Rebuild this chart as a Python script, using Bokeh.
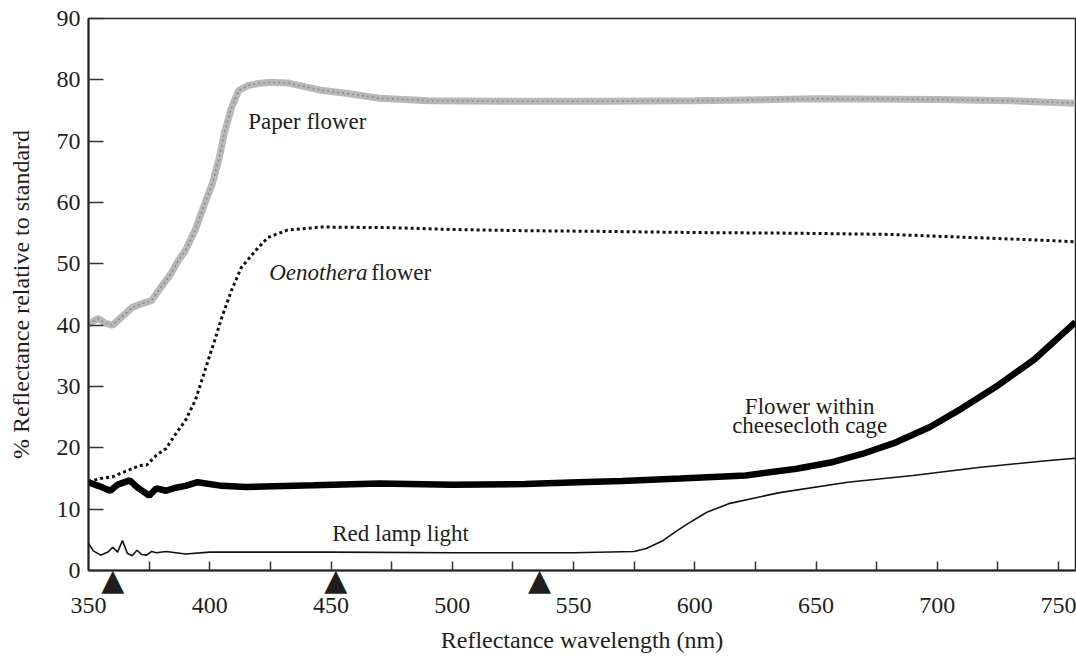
from bokeh.plotting import figure
from bokeh.models import Range1d, Label, FixedTicker, LinearAxis, CustomJSTickFormatter
from bokeh.embed import file_html
from bokeh.resources import INLINE

# ---------------- data ----------------
paper_wl = [350, 354, 357, 360, 365, 368, 372, 376, 379, 384, 387, 390, 394, 398, 401,
            404, 406, 409, 412, 416, 420, 425, 432, 440, 446, 456, 470, 490, 520, 560,
            600, 650, 700, 730, 757]
paper_val = [40.2, 41.1, 40.3, 40.0, 41.8, 42.9, 43.5, 44.0, 45.7, 48.4, 50.5, 52.2, 55.5,
             59.9, 63.0, 67.4, 71.3, 75.5, 78.3, 79.1, 79.4, 79.6, 79.5, 78.8, 78.3, 77.8,
             77.0, 76.6, 76.5, 76.5, 76.6, 76.9, 76.8, 76.6, 76.2]

oeno_wl = [350, 355, 360, 363, 368, 371, 374, 378, 382, 386, 390, 394, 398, 402, 405,
           409, 413, 419, 424, 432, 446, 474, 500, 530, 560, 600, 640, 680, 700, 720,
           740, 757]
oeno_val = [14.5, 15.0, 15.3, 15.8, 16.6, 17.1, 17.2, 18.8, 19.9, 22.3, 24.5, 27.7, 32.6,
            37.5, 41.3, 45.7, 49.4, 52.2, 54.3, 55.5, 56.0, 55.9, 55.6, 55.4, 55.3, 55.1,
            55.0, 54.8, 54.5, 54.2, 53.9, 53.6]

cage_wl = [350, 354, 359, 362, 367, 370, 375, 378, 382, 386, 390, 395, 405, 415, 443,
           470, 500, 530, 552, 570, 594, 621, 642, 656, 669, 683, 697, 710, 724, 740, 757]
cage_val = [14.4, 13.8, 13.0, 14.0, 14.7, 13.6, 12.2, 13.4, 13.0, 13.5, 13.8, 14.4, 13.8,
            13.6, 13.9, 14.2, 14.0, 14.1, 14.4, 14.6, 15.0, 15.5, 16.6, 17.6, 19.0, 20.9,
            23.4, 26.4, 29.9, 34.4, 40.5]

lamp_wl = [350, 352, 355, 358, 360, 362, 364, 366, 368, 370, 372, 374, 376, 378, 382,
           390, 400, 450, 500, 550, 575, 580, 587, 592, 597, 605, 614, 635, 663, 690,
           717, 745, 757]
lamp_val = [4.4, 3.2, 2.5, 3.0, 3.8, 3.0, 4.9, 2.8, 2.4, 3.3, 2.6, 2.5, 3.1, 2.9, 3.1,
            2.7, 3.0, 3.0, 2.9, 2.9, 3.1, 3.6, 4.9, 6.3, 7.6, 9.5, 10.9, 12.7, 14.4, 15.5,
            16.8, 17.9, 18.3]

marker_wl = [360, 452, 536]

x_ticks = [350, 400, 450, 500, 550, 600, 650, 700, 750]
x_minor = [375, 400, 425, 450, 475, 500, 525, 550, 575, 600, 625, 650, 675, 700, 725, 750]
y_ticks = [0, 10, 20, 30, 40, 50, 60, 70, 80, 90]

SERIF = "Liberation Serif"
INK = "#1e1e1e"

p = figure(width=1076, height=656, output_backend="svg", toolbar_location=None,
           x_range=Range1d(350, 757), y_range=Range1d(0, 90),
           x_axis_location=None,
           min_border_left=88, min_border_top=18, min_border_right=1,
           min_border_bottom=86)
p.grid.visible = False
p.outline_line_color = "#222222"
p.outline_line_width = 1.5
p.background_fill_color = "white"

# inner x axis: axis line, inward ticks and the black triangle markers
tri_axis = LinearAxis(ticker=FixedTicker(ticks=marker_wl, minor_ticks=x_minor),
                      formatter=CustomJSTickFormatter(code="return '\u25B2';"))
tri_axis.axis_line_width = 2
tri_axis.axis_line_color = "#222222"
tri_axis.major_tick_in = 0
tri_axis.major_tick_out = 0
tri_axis.minor_tick_in = 9
tri_axis.minor_tick_out = 0
tri_axis.minor_tick_line_color = "#333333"
tri_axis.minor_tick_line_width = 1.5
tri_axis.major_label_standoff = -9
tri_axis.major_label_text_font = "DejaVu Sans"
tri_axis.major_label_text_font_size = "30px"
tri_axis.major_label_text_color = INK

# outer x axis: tick labels and title only
xa = LinearAxis(ticker=FixedTicker(ticks=x_ticks, minor_ticks=[]))
xa.axis_line_color = None
xa.major_tick_line_color = None
xa.minor_tick_line_color = None
xa.major_tick_in = 0
xa.major_tick_out = 0
xa.major_label_standoff = -2
xa.major_label_text_font = SERIF
xa.major_label_text_font_size = "24px"
xa.major_label_text_color = INK
xa.axis_label = "Reflectance wavelength (nm)"
xa.axis_label_text_font = SERIF
xa.axis_label_text_font_size = "24px"
xa.axis_label_text_font_style = "normal"
xa.axis_label_text_color = INK
xa.axis_label_standoff = 11

p.add_layout(tri_axis, "below")
p.add_layout(xa, "below")

ya = p.yaxis[0]
ya.ticker = FixedTicker(ticks=y_ticks)
ya.major_tick_in = 15
ya.major_tick_out = 0
ya.minor_tick_in = 0
ya.minor_tick_out = 0
ya.axis_line_width = 2
ya.axis_line_color = "#222222"
ya.major_tick_line_color = "#333333"
ya.major_tick_line_width = 1.5
ya.major_label_standoff = 8
ya.major_label_text_font = SERIF
ya.major_label_text_font_size = "24px"
ya.major_label_text_color = INK
ya.axis_label = "% Reflectance relative to standard"
ya.axis_label_text_font = SERIF
ya.axis_label_text_font_size = "24px"
ya.axis_label_text_font_style = "normal"
ya.axis_label_text_color = INK
ya.axis_label_standoff = 20

# series
p.line(paper_wl, paper_val, line_color="#b8b8b8", line_width=7)
p.line(paper_wl, paper_val, line_color="#8c8c8c", line_width=1.6, line_dash="2 3")
p.line(oeno_wl, oeno_val, line_color="#111111", line_width=3, line_dash="3 3")
p.line(cage_wl, cage_val, line_color="#000000", line_width=6.5)
p.line(lamp_wl, lamp_val, line_color="#111111", line_width=1.6)

# annotations
def lab(x, y, text, style="normal", align="left", x_offset=0):
    p.add_layout(Label(x=x, y=y, text=text, text_font=SERIF, text_font_size="23px",
                       text_font_style=style, text_align=align, text_baseline="middle",
                       text_color=INK, x_offset=x_offset))

lab(415.9, 73.2, "Paper flower")
lab(424.5, 48.6, "Oenothera", style="italic")
lab(424.5, 48.6, "flower", x_offset=102)
lab(647.4, 26.8, "Flower within", align="center")
lab(647.4, 23.6, "cheesecloth cage", align="center")
lab(450.5, 6.0, "Red lamp light")

open("out.html", "w").write(file_html(p, INLINE))
